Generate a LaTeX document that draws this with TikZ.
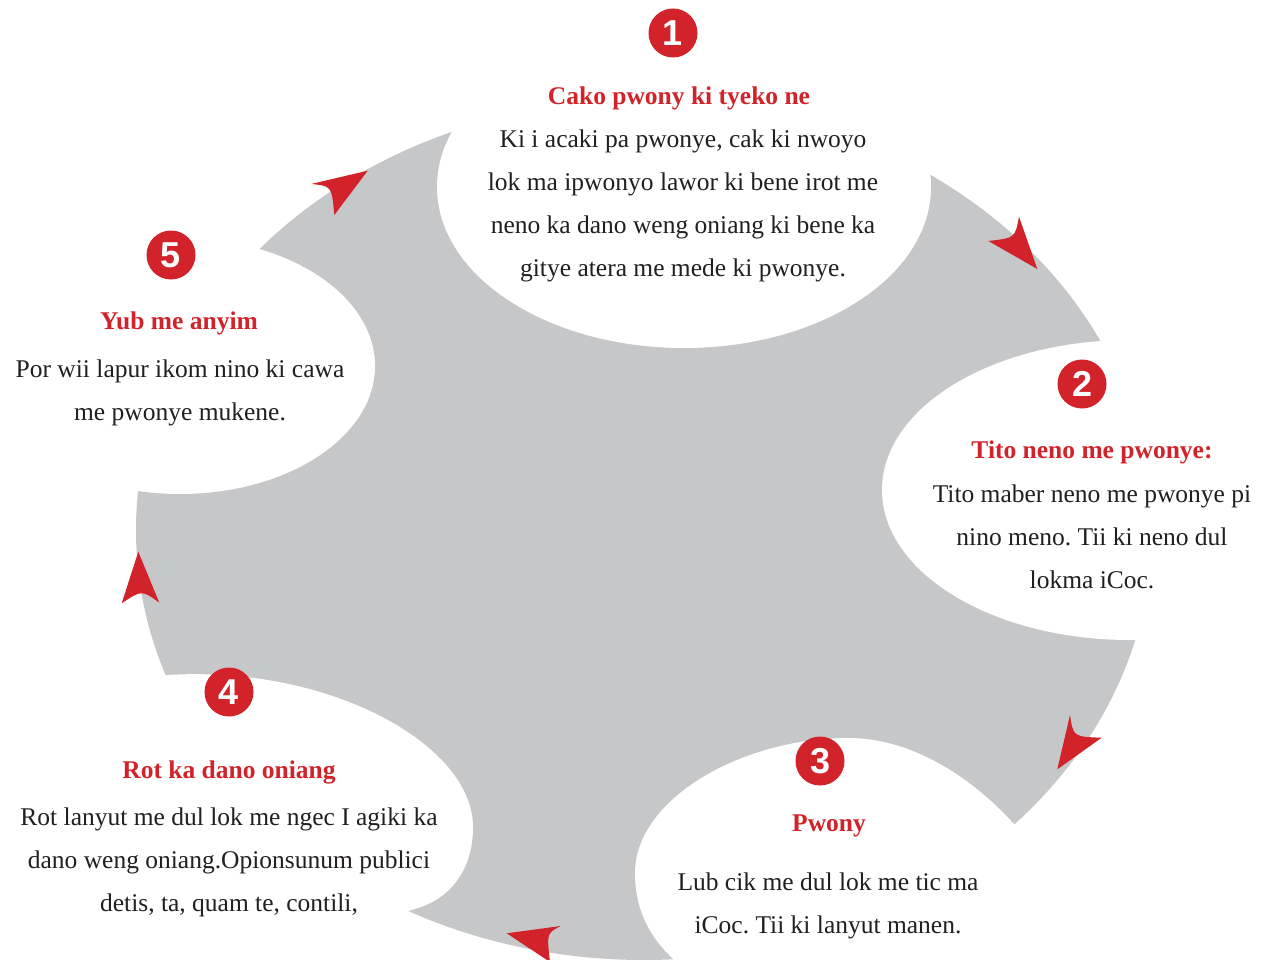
\documentclass[tikz,border=0pt]{standalone}
\usepackage{fontspec}
\setmainfont{Liberation Serif}
\newfontfamily\numfont{Liberation Sans}
\definecolor{blobgray}{HTML}{C6C7C9}
\definecolor{accred}{HTML}{D2232A}
\definecolor{bodyblack}{HTML}{231F20}
\frenchspacing
\begin{document}
\begin{tikzpicture}[x=1pt,y=-1pt,
  numcirc/.style={circle, fill=accred, minimum size=49pt, inner sep=0pt, text=white, font=\numfont\bfseries\fontsize{36}{36}\selectfont},
  stitle/.style={text=accred, font=\bfseries\fontsize{25.5}{30}\selectfont, inner sep=0pt},
  sbody/.style={text=bodyblack, align=center, font=\fontsize{25.5}{43}\selectfont\frenchspacing, inner sep=0pt},
  whitecut/.style={fill=white, draw=none},
  arrowhead/.style={fill=accred, draw=none}]
\useasboundingbox (0,0) rectangle (1271,960);
% gray disc
\fill[blobgray] (644,530) ellipse[x radius=508pt, y radius=430pt];
% white cut-outs
\fill[whitecut] (684,187) ellipse[x radius=247pt, y radius=161pt];
\fill[whitecut] (1130,490) ellipse[x radius=248pt, y radius=150pt];
\fill[whitecut] (180,366) ellipse[x radius=195pt, y radius=128pt];
\fill[whitecut] (1042,854) -- (1014,824)
   .. controls (960,765) and (900,738) .. (849,738)
   .. controls (740,738) and (635,800) .. (635,873)
   .. controls (635,910) and (650,940) .. (680,965)
   -- (700,990) -- (1100,990) -- (1100,854) -- cycle;
\fill[whitecut] (100,680) -- (168,675)
   .. controls (330,665) and (473,745) .. (473,827)
   .. controls (473,870) and (450,898) .. (418,908)
   -- (380,920) -- (380,990) -- (100,990) -- cycle;
% arrowheads
\fill[arrowhead] (367.7,170.7) -- (311,184) .. controls (331.7,186) .. (334.3,215) -- cycle;
\fill[arrowhead] (1037.3,269) -- (988.3,241) .. controls (1015,238) .. (1019,216.7) -- cycle;
\fill[arrowhead] (1057.3,769.3) -- (1070,715) .. controls (1073.3,736.7) .. (1101.7,737.7) -- cycle;
\fill[arrowhead] (506.7,933.3) -- (560.7,926) .. controls (546.7,933.3) .. (550,962) -- cycle;
\fill[arrowhead] (138.3,551.7) -- (121.7,603.3) .. controls (141.7,590) .. (159.3,602.7) -- cycle;
% numbers
\node[numcirc] (n1) at (673,33) {1};
\node[numcirc] (n2) at (1082,384) {2};
\node[numcirc] (n3) at (820,761) {3};
\node[numcirc] (n4) at (229,692) {4};
\node[numcirc] (n5) at (171,255) {5};
% titles
\node[stitle] (h1) at (679,98) {Cako pwony ki tyeko ne};
\node[stitle] (h2) at (1092,452) {Tito neno me pwonye:};
\node[stitle] (h3) at (829,826) {Pwony};
\node[stitle] (h4) at (229,772) {Rot ka dano oniang};
\node[stitle] (h5) at (179,323) {Yub me anyim};
% bodies
\node[sbody] (b1) at (683,205.5) {Ki i acaki pa pwonye, cak ki nwoyo\\lok ma ipwonyo lawor ki bene irot me\\neno ka dano weng oniang ki bene ka\\gitye atera me mede ki pwonye.};
\node[sbody] (b2) at (1092,537) {Tito maber neno me pwonye pi\\nino meno. Tii ki neno dul\\lokma iCoc.};
\node[sbody] (b3) at (828,906) {Lub cik me dul lok me tic ma\\iCoc. Tii ki lanyut manen.};
\node[sbody] (b4) at (229,862.5) {Rot lanyut me dul lok me ngec I agiki ka\\dano weng oniang.Opionsunum publici\\detis, ta, quam te, contili,};
\node[sbody] (b5) at (180,393) {Por wii lapur ikom nino ki cawa\\me pwonye mukene.};
\end{tikzpicture}
\end{document}
